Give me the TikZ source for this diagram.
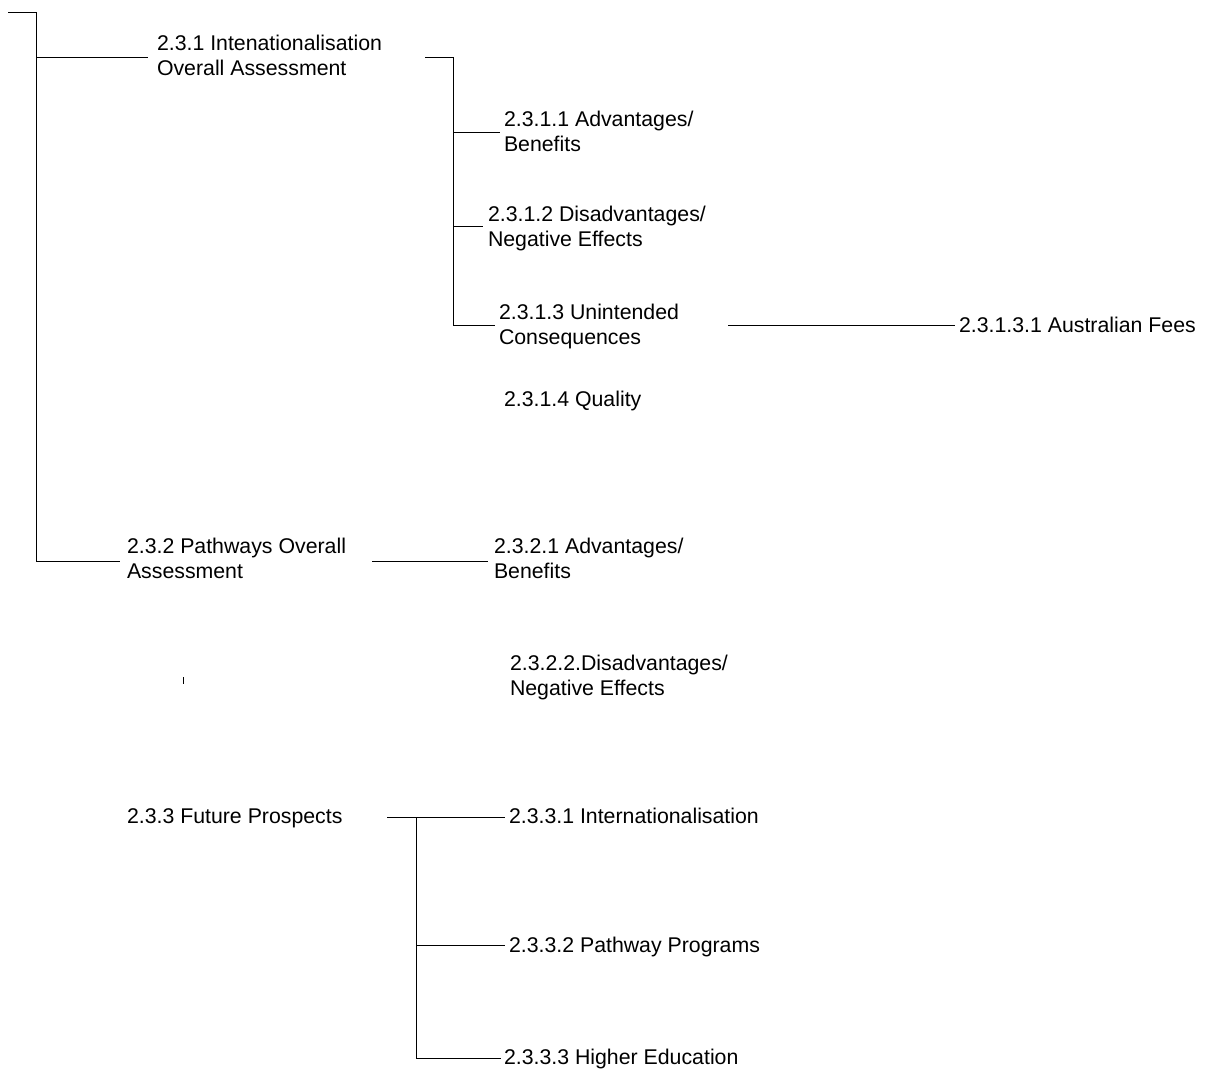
\documentclass[tikz,border=0pt]{standalone}
\usepackage{fontspec}
\setmainfont{Liberation Sans}
\begin{document}
\begin{tikzpicture}[x=1pt,y=-1pt,
  lbl/.style={anchor=base west, inner sep=0pt, outer sep=0pt, align=left,
              font=\fontsize{21.3}{25.5}\selectfont},
  conn/.style={line width=0.9pt, draw=black}]
\useasboundingbox (0,0) rectangle (1206,1072);

% ---- labels (two-line labels are placed by the baseline of their last line) ----
\node[lbl] (n231)  at (157,75.5)  {2.3.1 Intenationalisation\\Overall Assessment};
\node[lbl] (n2311) at (504,151.5) {2.3.1.1 Advantages/\\Benefits};
\node[lbl] (n2312) at (488,246.5) {2.3.1.2 Disadvantages/\\Negative Effects};
\node[lbl] (n2313) at (499,344.5) {2.3.1.3 Unintended\\Consequences};
\node[lbl] (n23131) at (959,332) {2.3.1.3.1 Australian Fees};
\node[lbl] (n2314) at (504,406) {2.3.1.4 Quality};
\node[lbl] (n232)  at (127,578.5) {2.3.2 Pathways Overall\\Assessment};
\node[lbl] (n2321) at (494,578.5) {2.3.2.1 Advantages/\\Benefits};
\node[lbl] (n2322) at (510,695.5) {2.3.2.2.Disadvantages/\\Negative Effects};
\node[lbl] (n233)  at (127,823) {2.3.3 Future Prospects};
\node[lbl] (n2331) at (509,823) {2.3.3.1 Internationalisation};
\node[lbl] (n2332) at (509,952) {2.3.3.2 Pathway Programs};
\node[lbl] (n2333) at (504,1064) {2.3.3.3 Higher Education};

% ---- junction points ----
\coordinate (root)   at (8,12);
\coordinate (trunkT) at (36,12);
\coordinate (trunkA) at (36,57);
\coordinate (trunkB) at (36,561);
\coordinate (e231)   at (148,57);
\coordinate (e232)   at (120,561);

\coordinate (s231)   at (425,57);
\coordinate (j231)   at (453,57);
\coordinate (j2311)  at (453,132);
\coordinate (j2312)  at (453,226);
\coordinate (j2313)  at (453,325);
\coordinate (e2311)  at (500,132);
\coordinate (e2312)  at (483,226);
\coordinate (e2313)  at (495,325);
\coordinate (s2313)  at (728,325);
\coordinate (e23131) at (955,325);

\coordinate (s232)   at (372,561);
\coordinate (e2321)  at (488,561);

\coordinate (tickA)  at (183,677);
\coordinate (tickB)  at (183,684);

\coordinate (s233)   at (387,817);
\coordinate (j2331)  at (416,817);
\coordinate (j2332)  at (416,945);
\coordinate (j2333)  at (416,1058);
\coordinate (e2331)  at (505,817);
\coordinate (e2332)  at (505,945);
\coordinate (e2333)  at (501,1058);

% ---- connectors ----
\draw[conn] (root) -- (trunkT) -- (trunkB) -- (e232);
\draw[conn] (trunkA) -- (e231);

\draw[conn] (s231) -- (j231) -- (j2313) -- (e2313);
\draw[conn] (j2311) -- (e2311);
\draw[conn] (j2312) -- (e2312);
\draw[conn] (s2313) -- (e23131);

\draw[conn] (s232) -- (e2321);
\draw[line width=0.7pt] (tickA) -- (tickB);

\draw[conn] (s233) -- (e2331);
\draw[conn] (j2331) -- (j2333) -- (e2333);
\draw[conn] (j2332) -- (e2332);
\end{tikzpicture}
\end{document}
